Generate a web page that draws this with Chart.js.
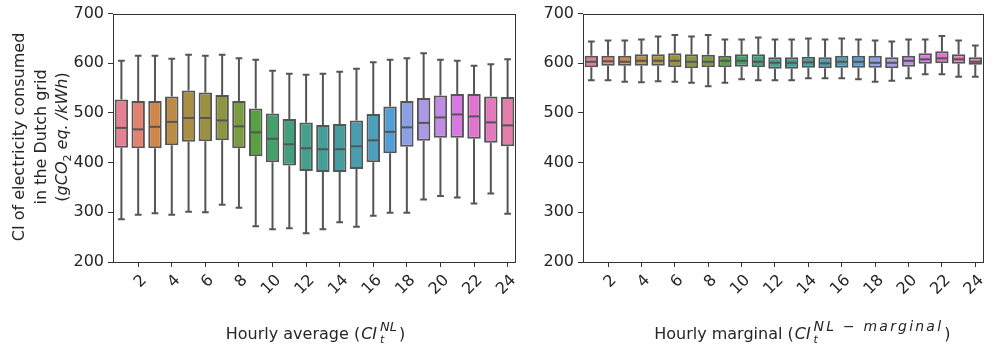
<!DOCTYPE html>
<html><head><meta charset="utf-8">
<script src="https://cdn.jsdelivr.net/npm/chart.js@4.4.0/dist/chart.umd.min.js"></script>
<style>
html,body{margin:0;padding:0;background:#fff;width:993px;height:349px;overflow:hidden}
#l{position:absolute;left:0;top:0;width:530px;height:349px}
#r{position:absolute;left:530px;top:0;width:463px;height:349px}
</style></head><body>
<div id="l"><canvas id="cl"></canvas></div>
<div id="r"><canvas id="cr"></canvas></div>
<script>
// ---------- data ----------
const HOURS = ['1','2','3','4','5','6','7','8','9','10','11','12','13','14','15','16','17','18','19','20','21','22','23','24'];
const Y_TICKS = [200, 300, 400, 500, 600, 700];

// Hourly average CI (left panel)
const AVG_MAX = [605,615,615,609,617,615,617,610,607,585,579,577,579,583,589,602,607,610,620,607,605,595,598,608];
const AVG_Q3  = [527,524,524,533,545,541,536,524,509,499,488,481,476,478,485,498,513,524,530,535,538,538,533,532];
const AVG_MED = [470,467,472,482,490,490,485,473,461,448,437,429,427,427,433,445,462,471,480,491,497,493,481,475];
const AVG_Q1  = [430,429,429,435,442,443,445,429,413,401,394,383,381,381,387,401,419,432,444,450,450,448,440,433];
const AVG_MIN = [286,295,298,295,301,300,315,309,272,266,268,258,266,280,271,293,299,299,326,333,330,318,338,297];

// Hourly marginal CI (right panel)
const MRG_MAX = [644,646,646,648,654,657,654,657,648,648,652,648,648,650,648,650,648,646,644,648,648,655,646,636];
const MRG_Q3  = [615,615,615,618,618,620,618,617,615,618,618,612,612,613,612,615,615,615,612,615,620,624,618,612];
const MRG_MED = [603,604,603,605,605,605,603,603,605,605,603,601,601,602,600,603,603,601,601,605,608,610,608,603];
const MRG_Q1  = [592,595,595,595,595,592,590,592,592,593,592,589,589,591,590,591,591,591,590,593,599,600,599,597];
const MRG_MIN = [566,566,563,562,564,563,561,554,561,568,566,566,566,570,570,570,568,563,565,570,578,578,573,573];

// ---------- style ----------
const FONT = '"DejaVu Sans"';
const TXT = '#262626';
const AX = '#333333';
const EDGE = '#555555';

// seaborn husl palette (24 colours) desaturated to 0.75
const HM = [[3.2406,-1.5372,-0.4986],[-0.9689,1.8758,0.0415],[0.0557,-0.2040,1.0570]];
const refU=0.19784, refV=0.46834, KAPPA=903.2962962, EPS=0.0088564516;
function maxChroma(L,H){
  const hr=H/360*2*Math.PI, sn=Math.sin(hr), cs=Math.cos(hr);
  const sub1=Math.pow(L+16,3)/1560896; const sub2=sub1>EPS?sub1:L/KAPPA;
  let res=Infinity;
  for(const [m1,m2,m3] of HM){
    const top=(0.99915*m1+1.05122*m2+1.14460*m3)*sub2;
    const rb=0.86330*m3-0.17266*m2, lb=0.12949*m3-0.38848*m1;
    const bottom=(rb*sn+lb*cs)*sub2;
    for(const t of [0,1]){ const C=L*(top-1.05122*t)/(bottom+0.17266*sn*t); if(C>0&&C<res) res=C; }
  }
  return res;
}
function huslToRgb(h,s,l){
  const C=maxChroma(l,h)/100*s, hr=h/360*2*Math.PI;
  const U=Math.cos(hr)*C, V=Math.sin(hr)*C;
  const fy=(l+16)/116; const Y=Math.pow(fy,3)>EPS?Math.pow(fy,3):(116*fy-16)/KAPPA;
  const vu=U/(13*l)+refU, vv=V/(13*l)+refV;
  const X=-(9*Y*vu)/((vu-4)*vv-vu*vv);
  const Z=(9*Y-15*vv*Y-vv*X)/(3*vv);
  return HM.map(r=>{let c=r[0]*X+r[1]*Y+r[2]*Z; c=c<=0.0031308?12.92*c:1.055*Math.pow(c,1/2.4)-0.055; return Math.min(1,Math.max(0,c));});
}
function hlsToRgb(h,l,s){
  if(s===0) return [l,l,l];
  const m2=l<=0.5?l*(1+s):l+s-l*s, m1=2*l-m2;
  const f=hh=>{hh=((hh%1)+1)%1; if(hh<1/6) return m1+(m2-m1)*hh*6; if(hh<0.5) return m2; if(hh<2/3) return m1+(m2-m1)*(2/3-hh)*6; return m1;};
  return [f(h+1/3),f(h),f(h-1/3)];
}
function desat(rgb,p){
  const [r,g,b]=rgb, mx=Math.max(r,g,b), mn=Math.min(r,g,b), l=(mx+mn)/2;
  if(mx===mn) return rgb;
  const d=mx-mn; let s=l<=0.5?d/(mx+mn):d/(2-mx-mn); let h;
  if(mx===r) h=((g-b)/d)%6; else if(mx===g) h=(b-r)/d+2; else h=(r-g)/d+4;
  h/=6; if(h<0) h+=1;
  return hlsToRgb(h,l,s*p);
}
const BOX_COLORS = HOURS.map((_,i)=>{
  let h=(i/HOURS.length+0.01)%1*359;
  const c=desat(huslToRgb(h,0.9*99,0.65*99),0.75);
  return 'rgb('+c.map(v=>Math.round(v*255)).join(',')+')';
});

// ---------- plugins ----------
const boxPlugin = {
  id:'boxStats',
  beforeDatasetsDraw(chart,args,o){
    const ys=chart.scales.y, meta=chart.getDatasetMeta(0), ctx=chart.ctx;
    ctx.save(); ctx.strokeStyle=EDGE; ctx.lineWidth=2; ctx.lineCap='butt';
    meta.data.forEach((el,i)=>{
      const x=el.x, w=el.width;
      const yMax=ys.getPixelForValue(o.max[i]), yQ3=ys.getPixelForValue(o.q3[i]);
      const yQ1=ys.getPixelForValue(o.q1[i]), yMin=ys.getPixelForValue(o.min[i]);
      ctx.beginPath();
      ctx.moveTo(x,yQ3); ctx.lineTo(x,yMax);
      ctx.moveTo(x,yQ1); ctx.lineTo(x,yMin);
      ctx.moveTo(x-w/4,yMax); ctx.lineTo(x+w/4,yMax);
      ctx.moveTo(x-w/4,yMin); ctx.lineTo(x+w/4,yMin);
      ctx.stroke();
    });
    ctx.restore();
  },
  afterDatasetsDraw(chart,args,o){
    const ys=chart.scales.y, meta=chart.getDatasetMeta(0), ctx=chart.ctx;
    ctx.save(); ctx.strokeStyle=EDGE; ctx.lineWidth=2;
    meta.data.forEach((el,i)=>{
      const x=el.x, w=el.width, y=ys.getPixelForValue(o.med[i]);
      ctx.beginPath(); ctx.moveTo(x-w/2+1,y); ctx.lineTo(x+w/2-1,y); ctx.stroke();
    });
    const a=chart.chartArea;
    ctx.strokeStyle=AX; ctx.lineWidth=1;
    ctx.strokeRect(Math.round(a.left)+0.5,Math.round(a.top)+0.5,Math.round(a.right-a.left)-1,Math.round(a.bottom-a.top));
    ctx.restore();
  }
};

function segFont(it,size){ return (it?'italic ':'')+size+'px '+FONT; }
function setLS(ctx,v){ if('letterSpacing' in ctx) ctx.letterSpacing=(v||0)+'px'; }
function segWidth(ctx,s){
  let w;
  if(s.sub!==undefined){
    setLS(ctx,0);
    ctx.font=segFont(s.subIt!==false,s.subSize||s.size); const a=ctx.measureText(s.sub).width;
    setLS(ctx,s.ls);
    ctx.font=segFont(true,s.size); const b=ctx.measureText(s.sup).width;
    setLS(ctx,0);
    w=Math.max(a,b);
  } else { ctx.font=segFont(s.it,s.size||16); w=ctx.measureText(s.t).width; }
  return w+(s.gapL||0)+(s.gapR||0);
}
function drawRich(ctx,segs,cx,cy,rot){
  ctx.save(); ctx.translate(cx,cy); ctx.rotate(rot);
  let W=0; segs.forEach(s=>W+=segWidth(ctx,s));
  let x=-W/2; ctx.textAlign='left'; ctx.textBaseline='alphabetic'; ctx.fillStyle=TXT;
  segs.forEach(s=>{
    const w=segWidth(ctx,s);
    const x0=x+(s.gapL||0);
    if(s.sub!==undefined){
      if(s.sub){ setLS(ctx,0); ctx.font=segFont(s.subIt!==false,s.subSize||s.size); ctx.fillText(s.sub,x0,s.subDy); }
      if(s.sup){ setLS(ctx,s.ls); ctx.font=segFont(true,s.size); ctx.fillText(s.sup,x0,s.supDy); setLS(ctx,0); }
    } else { ctx.font=segFont(s.it,s.size||16); ctx.fillText(s.t,x0,s.dy||0); }
    x+=w;
  });
  ctx.restore();
}
const richPlugin = {
  id:'richTitles',
  afterDraw(chart,args,o){
    const ctx=chart.ctx, a=chart.chartArea;
    if(o.x) drawRich(ctx,o.x,(a.left+a.right)/2+(o.xShift||0),o.xBase,0);
    if(o.y) o.y.forEach((line,i)=>drawRich(ctx,line,o.yBase[i],o.yCenter,-Math.PI/2));
  }
};

// ---------- titles ----------
const LEFT_XTITLE = [{t:'Hourly average ('},{t:'CI',it:true,gapL:1,gapR:3},{sub:'t',sup:'NL',size:13,subSize:11,subDy:4,supDy:-8},{t:')',gapL:2}];
const RIGHT_XTITLE = [{t:'Hourly marginal ('},{t:'CI',it:true,gapL:1,gapR:3},{sub:'t',sup:'NL \u2212 marginal',size:14,subSize:11,ls:2.2,subDy:4,supDy:-8},{t:')',gapL:1}];
const LEFT_YTITLE = [
  [{t:'CI of electricity consumed'}],
  [{t:'in the Dutch grid'}],
  [{t:'('},{t:'gCO',it:true},{sub:'2',sup:'',size:11,subIt:false,subDy:4,supDy:0},{t:' eq. /kWh',it:true},{t:')'}]
];

function makeChart(id,stats,yWidth,padRight,xTitle,xShift,yTitle){
  return new Chart(document.getElementById(id),{
    type:'bar',
    data:{labels:HOURS,datasets:[{
      data:stats.q1.map((v,i)=>[v,stats.q3[i]]),
      backgroundColor:BOX_COLORS,borderColor:EDGE,borderWidth:2,borderSkipped:false,
      barPercentage:0.8,categoryPercentage:1.0
    }]},
    options:{
      responsive:true,maintainAspectRatio:false,animation:false,devicePixelRatio:1,
      layout:{padding:{left:0,right:padRight,top:13,bottom:0}},
      plugins:{legend:{display:false},tooltip:{enabled:false},
        boxStats:stats,
        richTitles:{x:xTitle,xShift:xShift,xBase:339,y:yTitle,yBase:[24,45.5,67],yCenter:137}},
      scales:{
        x:{type:'category',offset:true,
          grid:{display:true,drawOnChartArea:false,offset:false,tickLength:5,tickWidth:1,
            tickColor:c=>(c.index%2===1?AX:'rgba(0,0,0,0)')},
          border:{display:false},
          ticks:{autoSkip:false,minRotation:45,maxRotation:45,padding:4,labelOffset:6,
            font:{family:FONT,size:16},color:TXT,
            callback:(v,i)=>(i%2===1?HOURS[i]:'')},
          afterFit:s=>{s.height=87;}},
        y:{min:200,max:700,
          grid:{drawOnChartArea:false,tickLength:5,tickWidth:1,tickColor:AX},
          border:{display:false},
          ticks:{padding:4,font:{family:FONT,size:16},color:TXT},
          afterBuildTicks:s=>{s.ticks=Y_TICKS.map(v=>({value:v}));},
          afterFit:s=>{s.width=yWidth;}}
      }
    },
    plugins:[boxPlugin,richPlugin]
  });
}

makeChart('cl',{min:AVG_MIN,q1:AVG_Q1,med:AVG_MED,q3:AVG_Q3,max:AVG_MAX},113,14,LEFT_XTITLE,1,LEFT_YTITLE);
makeChart('cr',{min:MRG_MIN,q1:MRG_Q1,med:MRG_MED,q3:MRG_Q3,max:MRG_MAX},53,6,RIGHT_XTITLE,19,null);
</script>
</body></html>
